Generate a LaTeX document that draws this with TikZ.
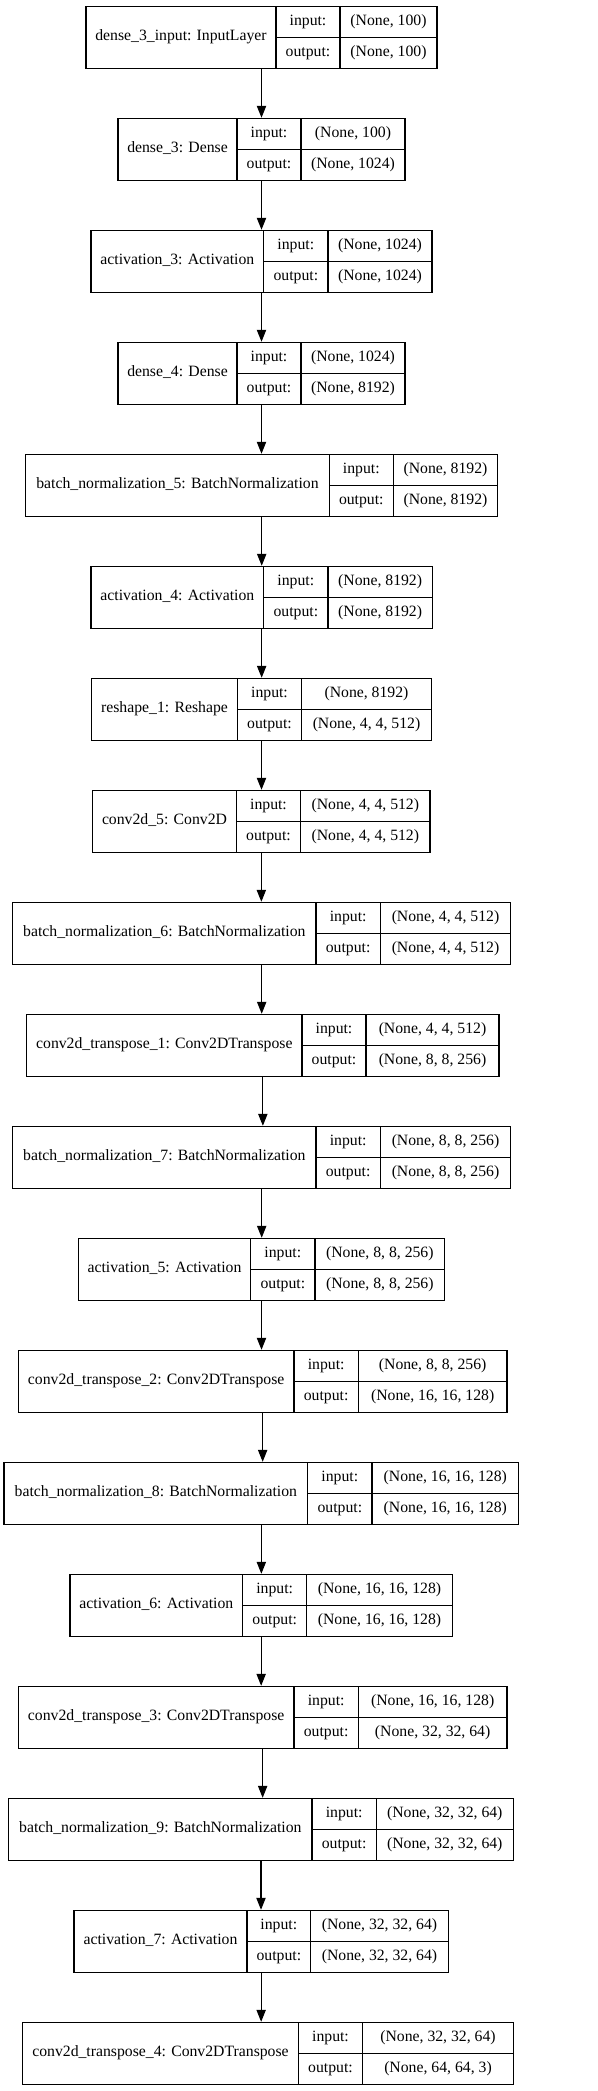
\documentclass[tikz,border=0pt]{standalone}
\usepackage{fontspec}
\setmainfont{Liberation Serif}
\usetikzlibrary{arrows.meta}
\tikzset{
  layerbox/.style={draw, line width=0.8pt, inner sep=0pt, minimum height=46.5pt},
  celltext/.style={inner sep=0pt, font=\fontsize{11.8}{14}\selectfont, text height=0.72em, text depth=0.22em},
  divider/.style={line width=0.8pt},
  arr/.style={line width=0.8pt, -{Triangle[length=9pt,width=7pt]}}
}
\newcommand{\klayer}[9]{%
  \pgfmathsetmacro\ktop{6.3+112*#2}%
  \pgfmathsetmacro\kbot{\ktop+62}%
  \pgfmathsetmacro\kmid{\ktop+31}%
  \pgfmathsetmacro\kiy{\ktop+15.5}%
  \pgfmathsetmacro\koy{\ktop+46.5}%
  \pgfmathsetmacro\kw{(#4-#3)*0.75}%
  \node[layerbox, minimum width=\kw pt] (#1) at ({(#3+#4)/2},\kmid) {};
  \draw[divider] (#5,\ktop) -- (#5,\kbot);
  \draw[divider] (#6,\ktop) -- (#6,\kbot);
  \draw[divider] (#5,\kmid) -- (#4,\kmid);
  \node[celltext] (#1-l) at ({(#3+#5)/2},\kmid) {#7};
  \node[celltext] (#1-i) at ({(#5+#6)/2},\kiy) {input:};
  \node[celltext] (#1-o) at ({(#5+#6)/2},\koy) {output:};
  \node[celltext] (#1-iv) at ({(#6+#4)/2},\kiy) {#8};
  \node[celltext] (#1-ov) at ({(#6+#4)/2},\koy) {#9};
}
\begin{document}
\begin{tikzpicture}[x=0.75pt, y=-0.75pt]
\useasboundingbox (0,0) rectangle (597,2091);
\fill[white] (0,0) rectangle (597,2091);
\klayer{b0}{0}{86}{437}{276}{340}{dense\_3\_input: InputLayer}{(None, 100)}{(None, 100)}
\klayer{b1}{1}{118}{405}{237}{301}{dense\_3: Dense}{(None, 100)}{(None, 1024)}
\klayer{b2}{2}{91}{432}{263.7}{328}{activation\_3: Activation}{(None, 1024)}{(None, 1024)}
\klayer{b3}{3}{118}{405}{237}{301}{dense\_4: Dense}{(None, 1024)}{(None, 8192)}
\klayer{b4}{4}{25.7}{497.7}{329.3}{393.3}{batch\_normalization\_5: BatchNormalization}{(None, 8192)}{(None, 8192)}
\klayer{b5}{5}{91}{432.3}{263.7}{328}{activation\_4: Activation}{(None, 8192)}{(None, 8192)}
\klayer{b6}{6}{91.7}{431.3}{237.3}{301.7}{reshape\_1: Reshape}{(None, 8192)}{(None, 4, 4, 512)}
\klayer{b7}{7}{92.7}{430}{236.3}{300.7}{conv2d\_5: Conv2D}{(None, 4, 4, 512)}{(None, 4, 4, 512)}
\klayer{b8}{8}{12.7}{510.7}{316}{380.3}{batch\_normalization\_6: BatchNormalization}{(None, 4, 4, 512)}{(None, 4, 4, 512)}
\klayer{b9}{9}{26.7}{499}{302}{366}{conv2d\_transpose\_1: Conv2DTranspose}{(None, 4, 4, 512)}{(None, 8, 8, 256)}
\klayer{b10}{10}{12.7}{510.7}{316}{380.3}{batch\_normalization\_7: BatchNormalization}{(None, 8, 8, 256)}{(None, 8, 8, 256)}
\klayer{b11}{11}{78.3}{444.7}{250.7}{315}{activation\_5: Activation}{(None, 8, 8, 256)}{(None, 8, 8, 256)}
\klayer{b12}{12}{18.3}{507}{294}{358.3}{conv2d\_transpose\_2: Conv2DTranspose}{(None, 8, 8, 256)}{(None, 16, 16, 128)}
\klayer{b13}{13}{4}{518.7}{307.7}{372}{batch\_normalization\_8: BatchNormalization}{(None, 16, 16, 128)}{(None, 16, 16, 128)}
\klayer{b14}{14}{70}{452.3}{242.7}{306.7}{activation\_6: Activation}{(None, 16, 16, 128)}{(None, 16, 16, 128)}
\klayer{b15}{15}{18.3}{507}{294}{358.3}{conv2d\_transpose\_3: Conv2DTranspose}{(None, 16, 16, 128)}{(None, 32, 32, 64)}
\klayer{b16}{16}{8.7}{513.3}{312}{376.3}{batch\_normalization\_9: BatchNormalization}{(None, 32, 32, 64)}{(None, 32, 32, 64)}
\klayer{b17}{17}{74}{448.3}{247}{310.7}{activation\_7: Activation}{(None, 32, 32, 64)}{(None, 32, 32, 64)}
\klayer{b18}{18}{22.7}{513.3}{298.3}{362.7}{conv2d\_transpose\_4: Conv2DTranspose}{(None, 32, 32, 64)}{(None, 64, 64, 3)}
\foreach \a/\b in {b0/b1,b1/b2,b2/b3,b3/b4,b4/b5,b5/b6,b6/b7,b7/b8,b8/b9,b9/b10,b10/b11,b11/b12,b12/b13,b13/b14,b14/b15,b15/b16,b16/b17,b17/b18}
  \draw[arr] (\a.south) -- (\a.south |- \b.north);
\end{tikzpicture}
\end{document}
